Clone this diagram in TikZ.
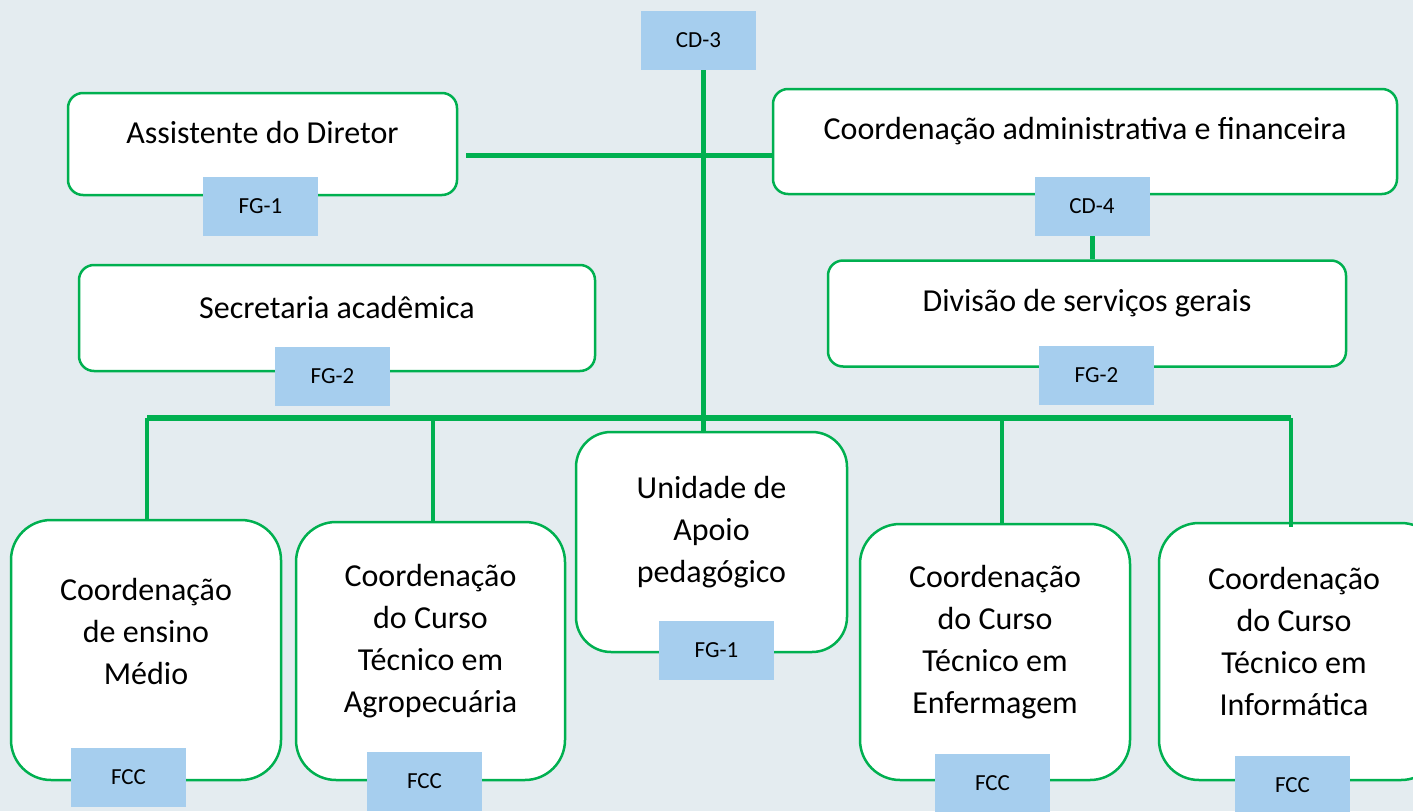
\documentclass[tikz,border=0pt]{standalone}
\usepackage{fontspec}
\setmainfont{Carlito}
\usetikzlibrary{positioning}

\definecolor{bgblue}{RGB}{228,236,240}
\definecolor{linegreen}{RGB}{0,176,80}
\definecolor{tagblue}{RGB}{166,206,238}

\begin{document}
\begin{tikzpicture}[
        x=1pt,y=-1pt,
        box/.style={draw=linegreen,line width=2.5pt,fill=white,inner sep=0pt},
        txt/.style={align=center,font=\fontsize{32}{42}\selectfont},
        tag/.style={fill=tagblue,minimum width=115pt,minimum height=59pt,inner sep=0pt,font=\fontsize{23}{26}\selectfont},
        trunk/.style={draw=linegreen,line width=5pt},
        drop/.style={draw=linegreen,line width=3.5pt}
    ]
    \fill[bgblue] (0,0) rectangle (1413,811);
    \useasboundingbox (0,0) rectangle (1413,811);

    % top row
    \node (assist) [box,rounded corners=15pt,minimum width=389pt,minimum height=102pt] at (262.5,144) {};
    \node (adm)    [box,rounded corners=15pt,minimum width=624pt,minimum height=105pt] at (1085,141.5) {};
    \node (sec)    [box,rounded corners=15pt,minimum width=516pt,minimum height=106pt] at (337,318) {};
    \node (div)    [box,rounded corners=15pt,minimum width=518pt,minimum height=106pt] at (1087,313.5) {};
    \node (assistT) [txt] at (262.5,133)  {Assistente do Diretor};
    \node (admT)    [txt] at (1085,131)   {Coordenação administrativa e financeira};
    \node (secT)    [txt] at (337,308)    {Secretaria acadêmica};
    \node (divT)    [txt] at (1087,303)   {Divisão de serviços gerais};

    % bottom row
    \node (unid) [box,rounded corners=35pt,minimum width=271pt,minimum height=220pt] at (711.5,542) {};
    \node (ens)  [box,rounded corners=40pt,minimum width=270pt,minimum height=260pt] at (146,650) {};
    \node (agro) [box,rounded corners=40pt,minimum width=269pt,minimum height=258pt] at (430.5,651) {};
    \node (enf)  [box,rounded corners=40pt,minimum width=270pt,minimum height=256pt] at (995,652) {};
    \node (inf)  [box,rounded corners=40pt,minimum width=282pt,minimum height=257pt] at (1300,651.5) {};
    \node (unidT) [txt] at (711.5,532) {Unidade de\\Apoio\\pedagógico};
    \node (ensT)  [txt] at (146,631)   {Coordenação\\de ensino\\Médio};
    \node (agroT) [txt] at (430.5,641) {Coordenação\\do Curso\\Técnico em\\Agropecuária};
    \node (enfT)  [txt] at (995,642)   {Coordenação\\do Curso\\Técnico em\\Enfermagem};
    \node (infT)  [txt] at (1294,641)  {Coordenação\\do Curso\\Técnico em\\Informática};

    % tags
    \node (cd3)  [tag] at (698.5,40.5)  {CD-3};
    \node (fg1a) [tag] at (260.5,206.5) {FG-1};
    \node (cd4)  [tag] at (1092,206.5)  {CD-4};
    \node (fg2s) [tag] at (332.5,376.5) {FG-2};
    \node (fg2d) [tag] at (1096.5,375.5) {FG-2};
    \node (fg1u) [tag] at (716.5,650.5) {FG-1};
    \node (fcc1) [tag] at (128.5,777)   {FCC};
    \node (fcc2) [tag] at (424.5,781)   {FCC};
    \node (fcc3) [tag] at (992.5,783.5) {FCC};
    \node (fcc4) [tag] at (1292.5,785)  {FCC};

    % connectors
    \coordinate (busL) at (147,418);
    \coordinate (busC) at (703,418);
    \coordinate (busR) at (1291,418);
    \coordinate (link) at (466,155);
    \draw[trunk] (cd3.south -| busC) -- (unid.north -| busC);
    \draw[trunk] (link) -- (link -| adm.west);
    \draw[trunk] (cd4.south) -- (div.north -| cd4.south);
    \draw[trunk,line width=6pt] (busL) -- (busR);
    \draw[drop] (busL) -- (ens.north -| busL);
    \draw[drop] (agro.north -| 433,0) -- (busL -| 433,0);
    \draw[drop] (enf.north -| 1002,0) -- (busL -| 1002,0);
    \draw[drop] ([yshift=-5pt]inf.north -| busR) -- (busR);
\end{tikzpicture}
\end{document}
